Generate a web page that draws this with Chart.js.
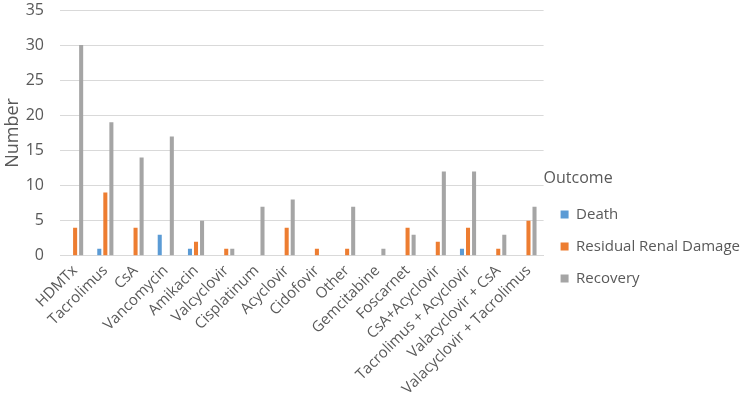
<!DOCTYPE html>
<html>
<head>
<meta charset="utf-8">
<script src="https://cdn.jsdelivr.net/npm/chart.js@4"></script>
<style>
    html, body { margin: 0; padding: 0; background: #fff; }
    #wrap { width: 750px; height: 404px; }
</style>
</head>
<body>
<div id="wrap"><canvas id="outcomeChart"></canvas></div>
<script>
// Drugs on the x axis
const drugs = [
    'HDMTx', 'Tacrolimus', 'CsA', 'Vancomycin', 'Amikacin', 'Valcyclovir',
    'Cisplatinum', 'Acyclovir', 'Cidofovir', 'Other', 'Gemcitabine', 'Foscarnet',
    'CsA+Acyclovir', 'Tacrolimus + Acyclovir', 'Valacyclovir + CsA', 'Valacyclovir + Tacrolimus'
];

// Counts per outcome
const death    = [0, 1, 0, 3, 1, 0, 0, 0, 0, 0, 0, 0, 0, 1, 0, 0];
const residual = [4, 9, 4, 0, 2, 1, 0, 4, 1, 1, 0, 4, 2, 4, 1, 5];
const recovery = [30, 19, 14, 17, 5, 1, 7, 8, 0, 7, 1, 3, 12, 12, 3, 7];

const yTicks = [0, 5, 10, 15, 20, 25, 30, 35];

const textColor = '#595959';
const gridColor = '#d9d9d9';

Chart.defaults.font.family = '"Open Sans", sans-serif';
Chart.defaults.color = textColor;

function makeSet(label, data, color) {
    return {
        label: label,
        data: data,
        backgroundColor: color,
        borderWidth: 0,
        barPercentage: 0.67,
        categoryPercentage: 0.6
    };
}

const ctx = document.getElementById('outcomeChart').getContext('2d');
new Chart(ctx, {
    type: 'bar',
    data: {
        labels: drugs,
        datasets: [
            makeSet('Death', death, '#5b9bd5'),
            makeSet('Residual Renal Damage', residual, '#ed7d31'),
            makeSet('Recovery', recovery, '#a5a5a5')
        ]
    },
    options: {
        responsive: true,
        maintainAspectRatio: false,
        animation: false,
        layout: {
            padding: { top: 10, right: 0, left: 2, bottom: 0 }
        },
        scales: {
            x: {
                grid: { display: false, drawTicks: false },
                border: { color: gridColor },
                // rotated labels make chart.js reserve too much room on the left
                afterFit: function(axis) {
                    axis.paddingLeft = 0;
                    axis.paddingRight = 0;
                },
                ticks: {
                    color: textColor,
                    font: { size: 15 },
                    maxRotation: 45,
                    minRotation: 45,
                    autoSkip: false,
                    padding: 6
                }
            },
            y: {
                min: 0,
                max: 35,
                afterBuildTicks: function(axis) {
                    axis.ticks = yTicks.map(v => ({ value: v }));
                },
                afterFit: function(axis) {
                    axis.width = 58;
                    axis.paddingTop = 0;
                    axis.paddingBottom = 0;
                },
                grid: { color: gridColor, drawTicks: false },
                border: { display: false },
                ticks: {
                    color: textColor,
                    font: { size: 16 },
                    padding: 16
                },
                title: {
                    display: true,
                    text: 'Number',
                    color: textColor,
                    font: { size: 18 },
                    padding: 0
                }
            }
        },
        plugins: {
            legend: {
                position: 'right',
                align: 'center',
                maxWidth: 230,
                title: {
                    display: true,
                    text: 'Outcome',
                    position: 'start',
                    color: textColor,
                    font: { size: 16 },
                    padding: { top: 60, bottom: 0 }
                },
                labels: {
                    color: textColor,
                    font: { size: 15 },
                    boxWidth: 8,
                    boxHeight: 8,
                    padding: 17
                }
            },
            tooltip: { enabled: false }
        }
    }
});
</script>
</body>
</html>
